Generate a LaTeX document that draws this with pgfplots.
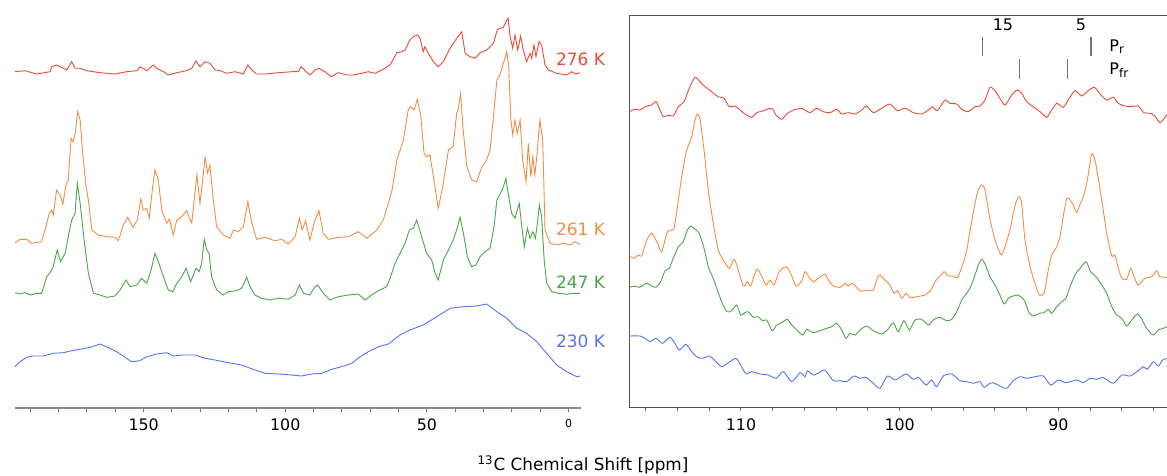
\documentclass[border=0pt]{standalone}
\usepackage{fontspec}
\setmainfont{DejaVu Sans}
\usepackage{pgfplots}
\pgfplotsset{compat=1.18}
\definecolor{k276}{RGB}{235,75,55}
\definecolor{k261}{RGB}{245,140,70}
\definecolor{k247}{RGB}{75,165,75}
\definecolor{k230}{RGB}{85,115,245}
\definecolor{framegray}{RGB}{85,85,85}

\pgfplotsset{
  spec/.style={
    scale only axis, x dir=reverse, ytick=\empty,
    tick align=outside, major tick length=2pt, minor tick length=2pt,
    tick style={black!55, line width=0.5pt},
    /pgf/number format/assume math mode=true,
    xticklabel style={font=\fontsize{7.9}{9}\selectfont, text=black},
    every axis plot/.append style={line width=0.45pt},
  },
}

\begin{document}
% 1 unit = one pixel of the reference
\begin{tikzpicture}[x=0.5pt, y=-0.5pt]
\useasboundingbox (0,0) rectangle (1167,476);
\coordinate (fullC) at (298,204);
\coordinate (zoomC) at (904.65,211.5);

% ---- full range ----
\begin{axis}[spec,
  at={(fullC)}, anchor=center, width=283pt, height=204pt,
  xmin=-4.4, xmax=195.4, ymin=0, ymax=408,
  axis x line*=bottom, axis y line=none,
  x axis line style={draw=black!45, line width=1pt},
  xtick={0,50,100,150},
  xticklabels={{\fontsize{5.5}{6}\selectfont 0},50,100,150},
  minor xtick={10,20,30,40,60,70,80,90,110,120,130,140,160,170,180,190},
]
% 276 K
\addplot[k276] coordinates {
(195.4,336.3) (191.9,337.3) (187.7,334) (183.0,336.3) (182.4,341.3) (180.7,343) (178.3,339.7)
(177.1,338) (175.4,346.3) (174.2,339.7) (172.4,339.7) (170.1,337.3) (167.7,336.3) (165.4,335.3)
(163.0,334.7) (160.1,334) (156.0,336.3) (152.4,337.3) (151.3,341.3) (148.9,337.3) (146.6,343)
(145.4,339.7) (143.0,336.3) (141.3,333) (138.3,335.3) (134.8,337.3) (133.0,339.7) (131.5,347)
(130.1,341.3) (128.3,346.3) (126.6,344.7) (124.8,338) (123.0,337.3) (120.7,334.7) (117.7,336.3)
(114.8,334) (113.2,343) (111.8,338) (110.1,334) (107.1,334) (102.4,335.3) (97.7,336.3)
(95.4,336.3) (94.4,341.3) (93.0,337.3) (91.3,333) (89.5,338) (88.1,339.7) (86.0,336.3)
(83.8,331.3) (81.3,335.3) (78.3,333) (76.0,333) (73.0,334.7) (70.7,336.3) (68.3,334.7)
(65.9,338) (63.0,343) (60.6,355.3) (58.9,356.3) (57.7,358) (56.0,368) (54.8,371.3) (53.4,373)
(52.4,369.7) (51.3,356.3) (50.7,361.3) (49.5,354.7) (47.7,346.3) (46.0,341.3) (44.2,346.3)
(41.8,359.7) (39.5,369.7) (37.7,376.3) (36.5,354.7) (34.8,351.3) (33.0,349.7) (31.2,355.3)
(28.9,358) (26.5,364.7) (25.1,378.7) (23.0,380.7) (21.8,388) (21.3,389.7) (20.7,373) (19.7,359.7)
(18.9,373) (17.9,358) (16.9,372) (16.0,358) (14.8,346.3) (13.6,354.7) (13.0,349.7) (12.2,363)
(11.5,351.3) (10.4,366.3) (9.5,363) (8.3,343) (7.1,338) (4.2,334.7) (0.6,333) (-1.1,336.3)
(-2.3,334) (-4.1,335.3)
};
% 261 K
\addplot[k261] coordinates {
(195.4,165.3) (193.6,168.7) (191.3,168.7) (189.5,164.7) (186.0,166.3) (184.8,178) (183.3,194.7)
(182.4,198) (181.9,193) (180.7,218) (179.5,213) (178.5,204) (177.4,223) (176.6,228) (175.6,269.7)
(175.0,266.3) (174.2,273) (173.3,296.3) (172.4,288) (171.5,254.7) (170.3,221.3) (169.5,208)
(168.3,178) (166.0,173) (163.0,171.3) (160.1,170.7) (158.9,167.3) (157.2,183) (155.6,190.7)
(153.8,180.7) (152.2,188) (151.0,208.7) (150.1,198) (148.9,199.7) (148.0,189.7) (146.8,221.3)
(146.0,238) (144.8,228) (143.6,198) (141.8,184.7) (140.9,188.7) (139.5,173) (138.3,188)
(136.5,191.3) (134.8,197.3) (133.0,184.7) (131.2,233) (130.1,204.7) (128.9,234.7) (128.3,250.7)
(127.4,234.7) (126.6,243) (125.4,208) (124.2,181.3) (121.9,173) (119.5,169.7) (118.3,178)
(116.6,176.3) (114.8,181.3) (113.2,206.3) (111.8,184.7) (110.1,168.7) (107.1,170.7) (103.6,167.3)
(101.2,168.7) (98.9,164) (96.5,171.3) (95.0,189.7) (94.0,178) (92.8,187.3) (91.3,168) (89.7,186.3)
(88.1,197.3) (86.6,174.7) (84.8,168.7) (81.3,170.7) (77.7,171.3) (74.2,176.3) (71.2,169.7)
(67.7,178) (65.4,188) (63.6,204.7) (62.3,218) (60.6,248) (58.3,268) (56.6,298) (55.7,301.3)
(54.5,298) (53.4,308.7) (52.2,293) (51.0,254.7) (50.1,251.3) (48.9,253) (47.7,231.3) (46.0,199.7)
(44.4,221.3) (42.4,258) (40.7,261.3) (39.5,294.7) (38.9,299.7) (38.1,314.7) (37.3,281.3)
(35.9,241.3) (34.2,228) (32.4,226.3) (30.6,241.3) (28.9,248) (27.7,258) (26.5,291.3) (25.3,328)
(24.2,333) (23.0,344.7) (21.8,356.3) (21.1,341.3) (20.4,289.7) (19.7,273) (18.9,288) (18.1,274.7)
(17.1,288) (16.2,248) (15.0,226.3) (14.2,264.7) (13.3,231.3) (12.6,251.3) (11.9,233) (11.2,251.3)
(10.1,288) (9.1,268) (8.3,178) (6.5,164.7) (4.2,163) (1.8,164.7) (-0.5,163) (-2.3,166.3)
(-4.1,163.7)
};
% 247 K
\addplot[k247] coordinates {
(195.4,115.3) (193.6,114) (191.9,115.3) (190.1,113) (187.7,114.7) (186.0,114.7) (184.2,131.3)
(183.0,135.3) (181.9,141.3) (180.5,158) (179.3,146.3) (177.7,154.7) (176.6,171.3) (175.4,188)
(174.2,194.7) (173.4,224.7) (172.4,204.7) (171.0,168) (169.5,134.7) (167.7,114.7) (165.4,113)
(163.0,110.7) (160.1,112) (158.3,118) (156.2,128) (154.8,121.3) (152.4,123) (150.7,129.7)
(148.9,124.7) (147.5,136.3) (146.0,154.7) (144.8,146.3) (143.0,131.3) (141.3,118) (139.7,116.3)
(138.3,124.7) (136.5,131.3) (135.0,139.7) (133.4,126.3) (131.5,139.7) (130.4,136.3) (129.5,144.7)
(128.6,168.7) (127.7,158) (126.9,154.7) (126.0,131.3) (124.2,118) (121.9,113) (120.1,116.3)
(117.1,117.3) (115.4,119.7) (113.6,130.7) (112.4,121.3) (110.7,113) (108.3,109.7) (105.4,108)
(102.4,109.7) (98.9,108.7) (96.5,113) (95.0,123) (93.6,114.7) (91.3,113) (89.7,120.7) (88.5,123)
(86.6,114.7) (84.2,108) (81.3,111.3) (77.7,113) (74.2,114) (71.8,108) (69.5,113) (67.1,117.3)
(64.2,121.3) (63.0,130) (61.2,144.7) (59.5,154.7) (57.7,164.7) (56.2,178) (54.8,179.7) (53.6,188)
(52.2,174.7) (50.1,154.7) (48.3,148) (47.1,134.7) (46.0,128) (44.2,148) (42.4,158) (40.7,168)
(39.5,178) (38.3,190.7) (37.1,174.7) (35.7,151.3) (34.2,141.3) (32.7,143) (31.2,151.3)
(29.5,156.3) (27.7,159.7) (26.3,181.3) (25.3,208) (23.9,215.3) (22.8,223) (22.1,229.7)
(21.3,214.7) (20.1,194.7) (18.9,189.7) (18.1,198) (17.4,204.7) (16.5,181.3) (15.6,161.3)
(14.5,179.7) (13.6,169.7) (12.6,176.3) (11.7,169.7) (11.0,184.7) (10.3,203) (9.5,191.3) (8.6,148)
(7.7,124.7) (5.9,116.3) (3.6,114.7) (0.6,113.7) (-1.1,114.7) (-4.1,114.7)
};
% 230 K
\addplot[k230] coordinates {
(195.4,41.3) (193.6,46.3) (191.3,50.7) (188.9,52) (185.4,52) (181.9,54.7) (178.3,55.3)
(175.4,57.3) (172.4,58.7) (168.9,60.7) (165.4,64) (161.9,59.7) (158.9,55.3) (156.6,50.7)
(154.2,46.3) (151.3,47.3) (148.9,51.3) (145.4,54) (141.8,55.3) (139.5,52) (136.0,53) (131.8,53)
(128.3,49.7) (124.8,48) (120.1,45.3) (115.4,43) (110.7,38) (107.1,34.7) (102.4,34) (97.7,33)
(94.2,32) (90.7,34) (87.1,34.7) (83.6,38.7) (80.1,41.3) (76.5,44.7) (73.6,51.3) (70.7,56.3)
(67.1,61.3) (63.6,64) (59.5,73) (56.0,78) (51.3,83) (46.5,91.3) (41.8,99.7) (37.1,101.3)
(32.4,102) (28.9,104) (25.3,96.3) (21.8,89.7) (18.3,79.7) (14.8,74.7) (11.2,66.3) (7.7,54.7)
(4.2,43) (0.6,36.3) (-2.9,31.3) (-4.1,32)
};
\end{axis}

% ---- expanded region ----
\begin{axis}[spec,
  at={(zoomC)}, anchor=center, width=275.35pt, height=195.8pt,
  xmin=82.33, xmax=117.04, ymin=0.7, ymax=392.3,
  xtick pos=left,
  axis line style={draw=framegray, line width=0.65pt},
  xtick={90,100,110},
  minor xtick={84,86,88,92,94,96,98,102,104,106,108,112,114,116},
  every axis plot/.append style={smooth, tension=0.4},
]
\addplot[k276] coordinates {
(117.04,296.3) (116.68,298.7) (116.37,298) (115.94,302) (115.63,303) (115.36,306.3) (115.15,299.7)
(114.90,291.3) (114.58,293) (114.27,292) (113.95,301.3) (113.59,306.3) (113.26,319.7) (112.90,330.7)
(112.58,326.3) (112.27,321.3) (111.85,316.3) (111.43,311.3) (111.07,309.7) (110.74,301.3)
(110.38,302) (110.06,298) (109.75,294) (109.33,290.7) (109.01,295.3) (108.59,297.3) (108.06,299.7)
(107.79,293) (107.43,288.7) (107.12,294) (106.70,298) (106.17,299.7) (105.97,298) (105.65,295.3)
(105.23,299.7) (104.81,296.3) (104.39,295.3) (103.97,298.7) (103.65,294) (103.24,295.3) (102.81,294)
(102.39,298) (102.08,302) (101.66,295.3) (101.13,299.7) (100.61,304) (100.15,297.3) (99.66,299.7)
(99.14,295.3) (98.61,294) (98.19,298) (97.92,301.3) (97.63,297.3) (97.14,308) (96.83,304.7)
(96.40,304) (96.09,298.7) (95.67,296.3) (95.25,301.3) (94.94,302) (94.62,308) (94.31,320.7)
(93.99,317.3) (93.68,309.7) (93.36,303) (92.94,313) (92.58,318) (92.31,314.7) (91.99,306.3)
(91.58,301.3) (91.15,296.3) (90.73,290.7) (90.42,298) (90.10,304.7) (89.69,300.7) (89.31,309.7)
(88.95,317.3) (88.53,312) (88.11,317.3) (87.73,320.7) (87.37,314) (86.95,308) (86.53,310.7)
(86.22,304.7) (85.80,302) (85.37,301.3) (84.96,302) (84.60,295.3) (84.22,294.7) (83.91,292)
(83.59,285.3) (83.28,290.7) (83.15,293)
};
\addplot[k261] coordinates {
(117.04,152) (116.74,149.7) (116.47,153) (116.26,152) (115.94,168) (115.63,174.7) (115.31,166.3)
(115.00,156.3) (114.68,174.7) (114.48,178) (114.22,179.7) (113.95,208) (113.67,238) (113.42,258)
(113.11,271.3) (112.90,288) (112.75,294) (112.58,288) (112.33,258) (112.06,218) (111.75,184.7)
(111.43,158) (111.12,148) (110.74,139.7) (110.44,148.7) (110.23,141.3) (109.86,122) (109.60,126.3)
(109.39,122) (109.01,138.7) (108.70,132) (108.42,123) (108.17,128) (107.92,123) (107.59,136.3)
(107.16,141.3) (106.87,134.7) (106.53,122) (106.17,127.3) (105.97,136.3) (105.76,132) (105.44,126.3)
(105.13,129.7) (104.71,134) (104.50,128) (104.18,122) (103.76,120.7) (103.44,124.7) (103.24,122)
(102.96,124.7) (102.50,117) (102.08,118) (101.66,118) (101.41,129.7) (101.24,133) (100.92,128)
(100.61,123) (100.36,114.7) (100.12,117.3) (99.87,109.7) (99.60,114.7) (99.35,110.3) (98.93,111.3)
(98.40,113) (98.04,118) (97.77,126.3) (97.50,131.3) (97.20,136.3) (96.93,132) (96.66,132)
(96.37,130.3) (96.03,143) (95.77,158) (95.52,181.3) (95.25,204.7) (95.04,218) (94.83,223)
(94.62,218) (94.31,189) (93.99,168) (93.72,156.3) (93.57,153) (93.36,161.3) (93.05,178)
(92.84,194.7) (92.62,208) (92.46,211.3) (92.31,204.7) (92.10,168) (91.78,141.3) (91.47,124.7)
(91.20,113) (90.90,114.7) (90.63,138) (90.42,153) (90.15,159.7) (89.89,171.3) (89.69,191.3)
(89.47,209.7) (89.26,208) (89.01,201.3) (88.84,195.3) (88.63,204) (88.42,211.3) (88.17,228)
(87.90,254) (87.69,248) (87.48,229.7) (87.20,201.3) (86.95,174.7) (86.63,152) (86.43,153)
(86.22,139.7) (86.00,129.7) (85.69,128.7) (85.44,139.7) (85.23,131.3) (84.96,123) (84.54,129.7)
(84.11,131.3) (83.80,137.3) (83.59,131.3) (83.15,130.7)
};
\addplot[k247] coordinates {
(117.04,120.7) (116.68,122) (116.41,120.7) (115.94,124.7) (115.63,122) (115.36,120.7) (115.06,126.3)
(114.79,137.3) (114.52,139.7) (114.27,149.7) (113.95,161.3) (113.64,166.3) (113.38,178) (113.17,182)
(112.90,178.7) (112.63,174.7) (112.33,159.7) (112.06,141.3) (111.75,129.7) (111.49,118) (111.22,106.3)
(110.90,96.3) (110.59,97.3) (110.27,103) (110.02,93) (109.75,95.3) (109.54,96.3) (109.22,90.7)
(108.91,91.3) (108.63,87.3) (108.38,88) (108.03,77.3) (107.75,83) (107.43,85.3) (107.08,88.7)
(106.80,83) (106.49,78) (106.11,73) (105.86,78.7) (105.65,77) (105.44,75.3) (105.02,77.3)
(104.60,79.7) (104.28,81.3) (103.97,84.7) (103.65,78) (103.38,69.7) (103.13,74.7) (102.81,73)
(102.50,78) (102.08,82) (101.66,77.3) (101.13,74) (100.78,78) (100.40,85.3) (100.09,76.3)
(99.73,87.3) (99.39,78) (99.03,88) (98.61,88.7) (98.19,83) (97.88,88) (97.50,90.7) (97.03,87.3)
(96.72,88.7) (96.40,96.3) (96.09,108) (95.77,114.7) (95.52,121.3) (95.25,133) (95.04,143)
(94.83,148.7) (94.62,144) (94.31,131.3) (93.99,123) (93.68,113) (93.42,104) (93.15,109.7)
(92.84,112) (92.58,113) (92.31,110.7) (92.10,106.3) (91.83,94.7) (91.53,92) (91.20,94.7)
(90.90,95.3) (90.63,98.7) (90.42,94.7) (90.10,101.3) (89.79,106.3) (89.52,109.7) (89.26,121.3)
(88.95,133) (88.63,139.7) (88.25,146.3) (87.96,136.3) (87.62,131.3) (87.27,123) (86.95,114.7)
(86.63,101.3) (86.32,93) (86.00,89.7) (85.69,82) (85.37,88) (85.02,94) (84.74,88.7) (84.43,79.7)
(84.01,73) (83.70,78) (83.38,79.7) (83.15,81.3)
};
\addplot[k230] coordinates {
(117.04,72) (116.37,72) (116.05,69.7) (115.74,66.3) (115.36,69.7) (114.94,64.7) (114.48,70.7)
(114.16,64.7) (113.89,58) (113.47,63.7) (113.11,56.3) (112.75,50.7) (112.38,49.7) (112.00,52)
(111.64,47.3) (111.22,41.3) (110.80,45.3) (110.32,49.7) (110.02,43) (109.68,34) (109.33,36.3)
(108.80,34) (108.28,33) (107.79,29.7) (107.33,36.3) (106.80,26.3) (106.28,35.3) (105.97,31.3)
(105.82,37.3) (105.44,33) (105.06,35.3) (104.71,38) (104.18,27.3) (103.76,27.3) (103.34,26.3)
(102.88,32) (102.50,29.7) (102.12,30.7) (101.66,24.7) (101.24,19.7) (100.78,32) (100.29,28)
(99.87,32) (99.56,34) (99.14,28.7) (98.82,30.7) (98.34,23) (97.98,28) (97.67,21.3) (97.25,32)
(96.72,34) (96.20,27.3) (95.77,26.3) (95.36,24.7) (94.94,26.3) (94.68,20.7) (94.31,24.7)
(94.10,25.3) (93.68,22) (93.25,19.7) (92.84,27.3) (92.41,31.3) (91.99,29.7) (91.47,31.3)
(90.95,32) (90.48,23) (90.00,28) (89.52,25.3) (88.84,28) (88.42,25.3) (88.00,29.7) (87.58,28.7)
(87.20,30.7) (86.53,24.7) (86.00,33) (85.48,32) (84.96,37.3) (84.64,41.3) (84.39,38.7)
(84.01,46.3) (83.70,42) (83.42,48) (83.15,49.7)
};
% P_r and P_fr positions
\draw[black!55, line width=0.75pt] (axis cs:94.79,352) -- (axis cs:94.79,371.3)
  (axis cs:87.94,352) -- (axis cs:87.94,371.3)
  (axis cs:92.46,329) -- (axis cs:92.46,348.7)
  (axis cs:89.41,329) -- (axis cs:89.41,348.7);
\node[font=\fontsize{8}{9}\selectfont] at (axis cs:93.49,383) {15};
\node[font=\fontsize{8}{9}\selectfont] at (axis cs:88.57,383) {5};
\node[font=\fontsize{8}{9}\selectfont, anchor=west, inner sep=0pt] at (axis cs:86.8,361.3) {P\textsubscript{r}};
\node[font=\fontsize{8}{9}\selectfont, anchor=west, inner sep=0pt] at (axis cs:86.8,338) {P\textsubscript{fr}};
\end{axis}

% temperatures and axis title
\begin{scope}[font=\fontsize{8.5}{10}\selectfont, inner sep=0pt, anchor=west]
\node[text=k276, anchor=west] at (555.7,59) {276 K};
\node[text=k261, anchor=west] at (555.7,229) {261 K};
\node[text=k247, anchor=west] at (555.7,281.7) {247 K};
\node[text=k230, anchor=west] at (555.7,341.7) {230 K};
\end{scope}
\node[font=\fontsize{8.4}{10}\selectfont] at (583,465) {\textsuperscript{13}C Chemical Shift [ppm]};
\end{tikzpicture}
\end{document}
